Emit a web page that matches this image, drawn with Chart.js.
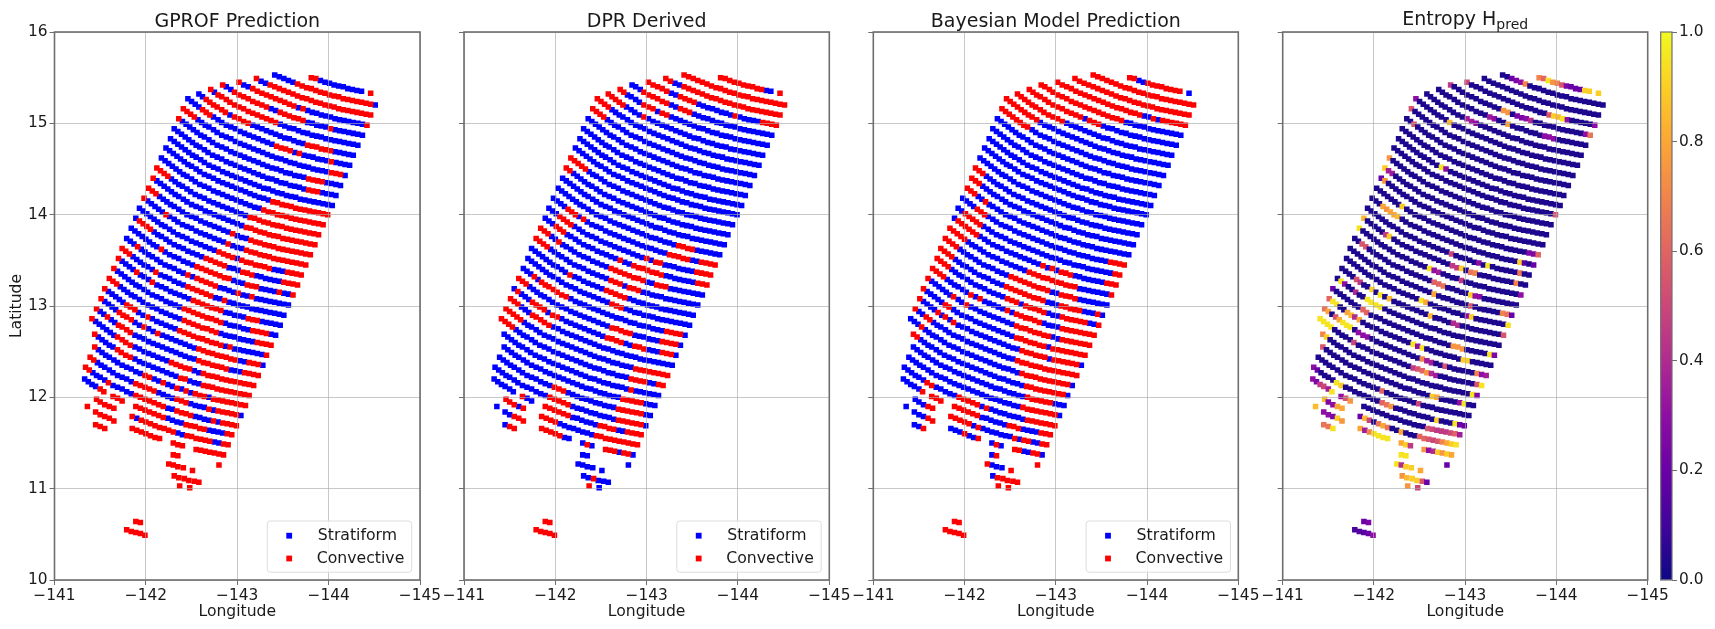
<!DOCTYPE html>
<html><head><meta charset="utf-8">
<script src="https://cdn.jsdelivr.net/npm/chart.js@4/dist/chart.umd.js"></script>
<style>html,body{margin:0;padding:0;background:#fff;width:1715px;height:629px;overflow:hidden}
canvas{position:absolute;top:0;filter:blur(0.4px)}</style></head><body>
<canvas id="p1" style="left:0"></canvas><canvas id="p2" style="left:440px"></canvas><canvas id="p3" style="left:850px"></canvas><canvas id="p4" style="left:1260px"></canvas><canvas id="cb" style="left:1640px"></canvas>
<script>
// Units: lon values are hundredths of a degree west of -141, lat values hundredths north of 10.
const rowStart=[22,15,12,9,6,4,2,0,0,0,0,0,0,0,0,0,0,0,0,0,0,0,0,0,0,0,0,0,0,0,2,3,3,3,4,8,7,10,0,0,0,0,0];
const lonRows=[
[281,286,291,296,301,306,311,316,321,326,331,336,null,346],
[241,246,251,256,261,266,271,276,281,286,291,296,301,306,311,316,321,326,331,336,341,346,351],
[221,226,231,236,241,246,251,256,261,266,271,276,281,286,291,296,301,306,311,316,321,326,331,336,341,346],
[202,207,212,217,222,227,232,237,242,247,252,257,262,267,272,277,282,287,292,297,302,307,312,317,322,327,332,337,342],
[184,188,193,197,202,207,212,217,222,227,232,237,242,247,252,257,262,267,272,277,282,287,292,297,302,307,312,317,322,327,332,337],
[171,175,179,183,188,192,197,202,207,212,217,222,227,232,237,242,247,252,257,262,267,272,277,282,287,292,297,302,307,312,317,322,327,332],
[158,162,166,170,174,178,183,187,192,197,202,207,212,217,222,227,232,237,242,247,252,257,262,267,272,277,282,287,292,297,302,307,312,317,322,327],
[146,150,154,158,162,166,170,174,179,183,188,193,198,203,208,213,218,223,228,233,238,243,248,253,258,263,268,273,278,283,288,293,298,303,308,313,318,323],
[141,145,149,153,157,161,165,169,174,178,183,188,193,198,203,208,213,218,223,228,233,238,243,248,253,258,263,268,273,278,283,288,293,298,303,308,313,318],
[136,140,144,148,152,156,160,164,169,173,178,183,188,193,198,203,208,213,218,223,228,233,238,243,248,253,258,263,268,273,278,283,288,293,298,303,308,313],
[131,135,139,143,147,151,155,159,164,168,173,178,183,188,193,198,203,208,213,218,223,228,233,238,243,248,253,258,263,268,273,278,283,288,293,298,303,308],
[127,131,135,139,143,147,151,155,160,164,169,174,179,184,189,194,199,204,209,214,219,224,229,234,239,244,249,254,259,264,269,274,279,284,289,294,299,304],
[122,126,130,134,138,142,146,150,155,159,164,169,174,179,184,189,194,199,204,209,214,219,224,229,234,239,244,249,254,259,264,269,274,279,284,289,294,299],
[117,121,125,129,133,137,141,145,150,154,159,164,169,174,179,184,189,194,199,204,209,214,219,224,229,234,239,244,249,254,259,264,269,274,279,284,289,294],
[112,116,120,124,128,132,136,140,145,149,154,159,164,169,174,179,184,189,194,199,204,209,214,219,224,229,234,239,244,249,254,259,264,269,274,279,284,289],
[108,112,116,120,124,128,132,136,141,145,150,155,160,165,170,175,180,185,190,195,200,205,210,215,220,225,230,235,240,245,250,255,260,265,270,275,280,285],
[103,107,111,115,119,123,127,131,136,140,145,150,155,160,165,170,175,180,185,190,195,200,205,210,215,220,225,230,235,240,245,250,255,260,265,270,275,280],
[98,102,106,110,114,118,122,126,131,135,140,145,150,155,160,165,170,175,180,185,190,195,200,205,210,215,220,225,230,235,240,245,250,255,260,265,270,275],
[93,97,101,105,109,113,117,121,126,130,135,140,145,150,155,160,165,170,175,180,185,190,195,200,205,210,215,220,225,230,235,240,245,250,255,260,265,270],
[89,93,97,101,105,109,113,117,122,126,131,136,141,146,151,156,161,166,171,176,181,186,191,196,201,206,211,216,221,226,231,236,241,246,251,256,261,266],
[84,88,92,96,100,104,108,112,117,121,126,131,136,141,146,151,156,161,166,171,176,181,186,191,196,201,206,211,216,221,226,231,236,241,246,251,256,261],
[79,83,87,91,95,99,103,107,112,116,121,126,131,136,141,146,151,156,161,166,171,176,181,186,191,196,201,206,211,216,221,226,231,236,241,246,251,256],
[74,78,82,86,90,94,98,102,107,111,116,121,126,131,136,141,146,151,156,161,166,171,176,181,186,191,196,201,206,211,216,221,226,231,236,241,246,251],
[70,74,78,82,86,90,94,98,103,107,112,117,122,127,132,137,142,147,152,157,162,167,172,177,182,187,192,197,202,207,212,217,222,227,232,237,242,247],
[65,69,73,77,81,85,89,93,98,102,107,112,117,122,127,132,137,142,147,152,157,162,167,172,177,182,187,192,197,202,207,212,217,222,227,232,237,242],
[60,64,68,72,76,80,84,88,93,97,102,107,112,117,122,127,132,137,142,147,152,157,162,167,172,177,182,187,192,197,202,207,212,217,222,227,232,237],
[55,59,63,67,71,75,79,83,88,92,97,102,107,112,117,122,127,132,137,142,147,152,157,162,167,172,177,182,187,192,197,202,207,212,217,222,227,232],
[51,55,59,63,67,71,75,79,84,88,93,98,103,108,113,118,123,128,133,138,143,148,153,158,163,168,173,178,183,188,193,198,203,208,213,218,223,228],
[46,50,54,58,62,66,70,74,79,83,88,93,98,103,108,113,118,123,128,133,138,143,148,153,158,163,168,173,178,183,188,193,198,203,208,213,218,223],
[41,45,49,53,57,61,65,69,74,78,83,88,93,98,103,108,113,118,123,128,133,138,143,148,153,158,163,168,173,178,183,188,193,198,203,208,213,218],
[44,48,52,56,60,64,69,73,78,83,88,93,98,103,108,113,118,123,128,133,138,143,148,153,158,163,168,173,178,183,188,193,198,203,208,213],
[44,48,52,56,60,65,69,74,79,84,89,94,99,104,109,114,119,124,129,134,139,144,149,154,159,164,169,174,179,184,189,194,199,204,209],
[39,43,47,51,55,60,64,69,74,79,84,89,94,99,104,109,114,119,124,129,134,139,144,149,154,159,164,169,174,179,184,189,194,199,204],
[34,38,42,46,50,55,59,64,69,74,79,84,89,94,99,104,109,114,119,124,129,134,139,144,149,154,159,164,169,174,179,184,189,194,199],
[33,37,41,45,50,54,null,64,69,74,null,null,89,94,99,104,109,114,119,124,129,134,139,144,149,154,159,164,169,174,179,184,189,194],
[46,50,55,60,65,null,null,null,85,90,95,100,105,110,115,120,125,130,135,140,145,150,155,160,165,170,175,180,185,190],
[36,null,45,50,55,60,65,null,null,null,85,90,95,100,105,110,115,null,null,130,135,140,null,null,155,160,165,170,175,180,185],
[45,50,55,null,null,null,null,null,null,null,null,null,null,null,null,null,null,130,135,null,null,null,null,null,null,null,null,180],
[125,130,135,141,151],
[131,136,142,147,153,158],
[137,148],
[79,84,89,94,99],
[89,94]];
const latRows=[
[550,549,547,545,544,542,541,540,538,537,536,535,null,533],
[553,551,549,547,545,543,541,539,538,536,534,533,531,530,529,527,526,525,524,523,522,521,520],
[549,546,544,542,540,538,536,534,532,530,528,527,525,523,522,520,519,518,516,515,514,513,512,511,510,509],
[545,542,540,538,535,533,531,529,527,525,523,521,519,517,516,514,512,511,509,508,507,505,504,503,502,501,500,499,498],
[542,540,537,534,531,529,527,524,522,520,518,516,514,512,510,508,506,505,503,501,500,498,497,496,494,493,492,491,490,489,488,487],
[537,534,531,529,526,523,520,518,516,513,511,509,507,505,503,501,499,497,495,494,492,490,489,487,486,485,483,482,481,480,479,478,477,476],
[532,529,526,523,520,518,515,512,509,507,505,502,500,498,496,494,492,490,488,486,484,483,481,479,478,476,475,474,472,471,470,469,468,467,466,465],
[527,524,521,518,515,512,509,507,504,501,498,496,494,491,489,487,485,483,481,479,477,475,473,472,470,468,467,465,464,463,461,460,459,458,457,456,455,454],
[516,513,510,507,504,501,498,496,493,490,487,485,483,480,478,476,474,472,470,468,466,464,462,461,459,457,456,454,453,452,450,449,448,447,446,445,444,443],
[505,502,499,496,493,490,487,485,482,479,476,474,472,469,467,465,463,461,459,457,455,453,451,450,448,446,445,443,442,441,439,438,437,436,435,434,433,432],
[494,491,488,485,482,479,476,474,471,468,465,463,461,458,456,454,452,450,448,446,444,442,440,439,437,435,434,432,431,430,428,427,426,425,424,423,422,421],
[483,480,477,474,471,468,465,463,460,457,454,452,450,447,445,443,441,439,437,435,433,431,429,428,426,424,423,421,420,419,417,416,415,414,413,412,411,410],
[473,470,467,464,461,458,455,453,450,447,444,442,440,437,435,433,431,429,427,425,423,421,419,418,416,414,413,411,410,409,407,406,405,404,403,402,401,400],
[462,459,456,453,450,447,444,442,439,436,433,431,429,426,424,422,420,418,416,414,412,410,408,407,405,403,402,400,399,398,396,395,394,393,392,391,390,389],
[451,448,445,442,439,436,433,431,428,425,422,420,418,415,413,411,409,407,405,403,401,399,397,396,394,392,391,389,388,387,385,384,383,382,381,380,379,378],
[440,437,434,431,428,425,422,420,417,414,411,409,407,404,402,400,398,396,394,392,390,388,386,385,383,381,380,378,377,376,374,373,372,371,370,369,368,367],
[429,426,423,420,417,414,411,409,406,403,400,398,396,393,391,389,387,385,383,381,379,377,375,374,372,370,369,367,366,365,363,362,361,360,359,358,357,356],
[418,415,412,409,406,403,400,398,395,392,389,387,385,382,380,378,376,374,372,370,368,366,364,363,361,359,358,356,355,354,352,351,350,349,348,347,346,345],
[407,404,401,398,395,392,389,387,384,381,378,376,374,371,369,367,365,363,361,359,357,355,353,352,350,348,347,345,344,343,341,340,339,338,337,336,335,334],
[396,393,390,387,384,381,378,376,373,370,367,365,363,360,358,356,354,352,350,348,346,344,342,341,339,337,336,334,333,332,330,329,328,327,326,325,324,323],
[385,382,379,376,373,370,367,365,362,359,356,354,352,349,347,345,343,341,339,337,335,333,331,330,328,326,325,323,322,321,319,318,317,316,315,314,313,312],
[374,371,368,365,362,359,356,354,351,348,345,343,341,338,336,334,332,330,328,326,324,322,320,319,317,315,314,312,311,310,308,307,306,305,304,303,302,301],
[363,360,357,354,351,348,345,343,340,337,334,332,330,327,325,323,321,319,317,315,313,311,309,308,306,304,303,301,300,299,297,296,295,294,293,292,291,290],
[352,349,346,343,340,337,334,332,329,326,323,321,319,316,314,312,310,308,306,304,302,300,298,297,295,293,292,290,289,288,286,285,284,283,282,281,280,279],
[341,338,335,332,329,326,323,321,318,315,312,310,308,305,303,301,299,297,295,293,291,289,287,286,284,282,281,279,278,277,275,274,273,272,271,270,269,268],
[330,327,324,321,318,315,312,310,307,304,301,299,297,294,292,290,288,286,284,282,280,278,276,275,273,271,270,268,267,266,264,263,262,261,260,259,258,257],
[319,316,313,310,307,304,301,299,296,293,290,288,286,283,281,279,277,275,273,271,269,267,265,264,262,260,259,257,256,255,253,252,251,250,249,248,247,246],
[308,305,302,299,296,293,290,288,285,282,279,277,275,272,270,268,266,264,262,260,258,256,254,253,251,249,248,246,245,244,242,241,240,239,238,237,236,235],
[297,294,291,288,285,282,279,277,274,271,268,266,264,261,259,257,255,253,251,249,247,245,243,242,240,238,237,235,234,233,231,230,229,228,227,226,225,224],
[286,283,280,277,274,271,268,266,263,260,257,255,253,250,248,246,244,242,240,238,236,234,232,231,229,227,226,224,223,222,220,219,218,217,216,215,214,213],
[269,266,263,260,257,255,252,249,246,244,242,239,237,235,233,231,229,227,225,223,221,220,218,216,215,213,212,211,209,208,207,206,205,204,203,202],
[255,252,249,246,244,241,238,235,233,231,228,226,224,222,220,218,216,214,212,210,209,207,205,204,202,201,200,198,197,196,195,194,193,192,191],
[244,241,238,235,233,230,227,224,222,220,217,215,213,211,209,207,205,203,201,199,198,196,194,193,191,190,189,187,186,185,184,183,182,181,180],
[233,230,227,224,222,219,216,213,211,209,206,204,202,200,198,196,194,192,190,188,187,185,183,182,180,179,178,176,175,174,173,172,171,170,169],
[220,217,214,212,209,206,null,201,199,196,null,null,190,188,186,184,182,180,178,177,175,173,172,170,169,168,166,165,164,163,162,161,160,159],
[198,195,192,190,188,null,null,null,179,177,175,173,171,169,167,166,164,162,161,159,158,157,155,154,153,152,151,150,149,148],
[190,null,184,181,179,177,174,null,null,null,166,164,162,160,158,156,155,null,null,150,148,147,null,null,143,142,141,140,139,138,137],
[170,168,166,null,null,null,null,null,null,null,null,null,null,null,null,null,null,137,136,null,null,null,null,null,null,null,null,126],
[127,126,124,123,120],
[114,112,111,109,108,107],
[103,101],
[55,53,52,51,49],
[64,63]];
// Per-row class runs: b = Stratiform, r = Convective, _ = no point
const gprofRuns=["r2b10_1r1","b5r17b1","r1b2r23","r1b2r10b1r1b13r1","r1b2r8b2r6b5r1b7","r1b1r14b18","b2r6b1r4b12r6b5","b4r3b14r4b1r1b6r1b4","r4b30r3b1","r1b29r4b4","b31r3b4","b38","b25r13","b24r14","r4b18r16","r1b21r16","r3b17r1b3r14","r1b5r1b13r1b3r14","b19r4b1r7b3r4","b1r4b12r5b3r3b6r4","b8r1b7r8b3r3b4r1b2r1","b3r1b11r1b1r5b4r1b2r1b8","r3b6r1b6r6b2r1b13","r1b4r1b3r1b8r7b5r3b5","r1b16r9b6r4b2","r3b15r8b8r4","r1b5r3b2r1b6r10b1r1b7r1","r1b4r4b2r1b2r1b8r9b2r3b1","r1b2r1b2r4b14r7b3r4","r1b6r4b8r5b2r12","r1b5r4b10r2b3r11","r1b11r2b2r1b2r1b1r1b1r3b1r8","r2b9r5b4r3b4r1b1r5b1","r2b4r1b5r7b2r4b4r1b1r4","b4r2_1r3_2r7b4r5b4r2","r5_3r1b1r8b2r6b2r2","r1_1r5_3r7_2r3_2r7","r3_14r2_8r1","r5","r6","r2","r5","r2"];
const dprRuns=["r10b2_1r1","r23","r2b2r22","r5b2r4b8r1b5r4","b3r6b2r3b18","r2b4r3b1r2b22","r5b4r1b26","r4b34","r4b34","b38","b38","b38","b38","r5b33","r2b36","b38","b28r4b6","b4r3b1r1b18r5b2r4","b3r4b16r1b1r2b7r4","b3r3b12r1b2r7b7r3","r3b2r1b11r8b2r3b8","r4b14r3b1r3b13","b10r1b7r5b15","b20r3b15","b3r1b1r7b21r4b1","r3b19r5b6r4b1","b1r1b3r4b1r2b10r4b2r3b3r3b1","r3b3r5b27","r5b25r8","r4b26r4b2r2","b29r1b6","b27r5b3","b13r3b11r6b2","b13r5b10r6b1","b6_1r1b2_2r6b6r4b2r4","r3b1r1_3r4b8r10","b1_1b2r3_3r5b2_2b1r1b1_2r3b1r2b1","b1r2_14b2_8b1","b5","b2r1b3","r1b1","r5","r2"];
const bayesRuns=["r2b2r8_1b1","r23","r26","r19b2r1b1r6","r19b13","r13b1r3b17","r12b24","r9b29","r8b30","b38","b38","b38","b38","b38","r3b35","r3b35","r3b2r1b32","b4r3b27r4","b2r5b29r2","b1r6b14r1b1r1b1r3b7r3","r5b14r11b7r1","r4b12r9b2r4b7","r4b12r9b3r5b3r1b1","r4b13r3b1r5b3r6b2r1","r4b6r1b1r1b5r1b1r6b4r8","r1b6r1b2r1b10r8b2r7","r1b5r2b14r7b1r8","r1b4r1b1r1b1r1b14r6b1r6b1","r1b2r2b19r14","b3r1b22r11b1","r2b24r9b1","b26r6b3","b26r8b1","b6r2b5r5b1r1b8r7","b5r1_1r3_2r6b6r3b4r3","b3r2_3r5b1r1b7r1b1r2b2r2","b1_1b3r2_3b3r1b2r1_2b1r1b1_2r2b2r2b1","b2r1_14b1r1_8r1","r1b3r1","b1r5","r2","r5","r2"];
// Entropy: background level and [row, scan position, entropy in %] for the points that stand out
const entropyBase=3;
const entropyHot=[[0,22,70],[0,23,60],[0,24,95],[0,25,75],[0,26,70],[0,27,55],[0,28,25],[0,29,20],[0,30,20],[0,31,20],[0,32,90],[0,33,90],[0,35,90],
[1,17,20],[1,18,25],[1,19,30],[1,20,70],[3,9,50],[4,6,45],[3,27,55],[3,28,90],[3,29,85],[3,30,95],[3,31,30],[3,37,30],[4,18,75],[4,19,75],[4,21,25],[4,22,25],[4,23,30],[4,24,40],[4,36,30],[4,37,65],
[7,9,85],[6,12,35],[6,13,35],[6,14,30],[5,16,35],[5,17,30],[5,20,80],[5,28,30],[5,29,30],[5,30,30],[8,0,55],[7,0,30],[9,2,55],[13,0,75],[14,0,90],[14,1,35],[14,2,35],[15,0,20],[15,1,75],[11,11,95],[11,12,30],
[17,3,80],[17,4,75],[17,5,80],[17,6,80],[17,7,85],[16,7,90],[19,0,85],[20,0,95],[12,37,55],[19,6,45],[19,7,90],[21,2,55],[21,3,55],[18,20,50],[16,37,60],[16,36,25],[16,35,25],[18,28,95],[18,26,30],[17,34,90],[17,35,15],[17,37,20],
[20,17,95],[20,18,30],[20,19,35],[19,21,45],[19,22,45],[19,23,90],[19,25,65],[19,26,70],[18,35,65],[19,35,70],[20,37,30],[21,19,60],[21,20,60],[21,21,65],[20,24,45],[22,20,80],[21,27,90],[21,28,30],[21,29,30],
[25,1,95],[25,2,30],[24,4,55],[24,5,45],[26,0,20],[25,5,40],[24,8,90],[24,10,95],[24,12,85],[27,0,60],[27,1,95],[27,2,95],[25,8,95],[25,9,95],[25,10,95],[25,11,95],[23,18,95],[23,19,80],[22,28,55],[22,35,70],[22,36,65],[22,37,20],
[28,0,65],[28,1,80],[26,8,60],[26,9,60],[24,21,85],[23,29,90],[29,0,95],[29,1,95],[29,2,95],[29,3,95],[28,3,55],[28,4,80],[28,5,95],[28,6,95],[28,7,95],[27,5,80],[27,6,85],[27,7,40],[27,8,80],[30,2,70],[30,3,90],[29,9,50],[28,9,30],[28,10,30],[28,11,30],[31,3,55],[33,3,30],[33,4,20],
[34,4,30],[34,5,25],[34,6,45],[34,7,50],[34,8,35],[34,9,95],[33,9,95],[33,10,90],[32,18,60],[27,20,95],[27,21,30],[27,22,95],[26,28,75],[26,29,75],[26,30,75],[27,31,90],[27,32,90],[28,23,70],[28,24,35],[28,25,35],[29,22,45],[29,23,55],[29,24,60],[29,25,75],[29,26,40],[29,27,35],[28,28,55],[28,35,70],[28,36,30],[28,37,35],[26,36,95],[26,37,25],[24,37,55],[23,37,95],[23,28,30],[24,26,40],[24,27,40],
[29,36,55],[29,37,95],[30,36,95],[30,37,25],[31,28,90],[31,29,80],[32,26,50],[31,35,95],[31,34,30],[35,16,20],[35,17,85],[35,18,50],[35,20,65],[35,21,80],[35,22,65],[33,19,60],[33,20,65],[33,21,75],[33,31,90],[33,35,95],[33,36,20],[33,37,20],[35,25,80],
[34,30,55],[34,31,50],[34,32,45],[34,33,45],[34,34,45],[34,35,50],[34,36,60],[34,37,35],[35,29,60],[35,30,60],[35,31,55],[35,32,50],[35,33,55],[35,34,70],[35,35,80],[35,36,90],[35,37,95],[36,20,95],[36,21,95],[36,22,95],[36,23,95],[36,17,80],[36,18,35],[36,19,70],[36,26,80],[36,27,90],[36,28,45],[36,31,75],[36,32,30],[36,33,40],[36,34,90],[36,35,75],[36,36,90],[36,37,80],
[35,8,85],[35,9,25],[35,10,30],[35,11,80],[35,12,80],[36,7,85],[36,9,30],[36,10,30],[36,11,25],[36,12,90],[36,13,75],[37,10,65],[37,11,65],[37,12,95],[34,11,30],[34,12,55],[34,13,75],[37,27,95],[37,28,95],[37,37,20],
[38,0,95],[38,1,40],[38,2,90],[38,3,90],[38,4,80],[39,0,75],[39,1,85],[39,2,90],[39,3,90],[39,4,55],[39,5,20],[40,0,75],[40,1,50],[41,0,12],[41,1,15],[41,2,15],[41,3,20],[41,4,30],[42,0,20],[42,1,25]];
const xTicks=[-145,-144,-143,-142,-141];
const yTicks=[10,11,12,13,14,15,16];
const plasmaStops=['#0d0887','#41049d','#6a00a8','#8f0da4','#b12a90','#cc4778','#e16462','#f2844b','#fca636','#fcce25','#f0f921'];
const BLUE='#0000ff',RED='#ff0000',FONT='"DejaVu Sans"',INK='#1a1a1a',SPINE='#6e6e6e';

function hex(h){return [1,3,5].map(i=>parseInt(h.substr(i,2),16));}
function plasma(v){const t=Math.min(.9999,Math.max(0,v))*10,i=Math.floor(t),f=t-i,a=hex(plasmaStops[i]),b=hex(plasmaStops[i+1]);
 return 'rgb('+a.map((c,j)=>Math.round(c+(b[j]-c)*f)).join(',')+')';}
function pt(k,p){return {x:-(141+lonRows[k][p]/100),y:10+latRows[k][p]/100};}
function classes(runs){const out={b:[],r:[]};runs.forEach((run,k)=>{let p=0;for(const m of run.matchAll(/([br_])(\d+)/g)){const n=+m[2];for(let i=0;i<n;i++,p++){if(m[1]!=='_'&&lonRows[k][p]!=null)out[m[1]].push(pt(k,p));}}});return out;}
function entropyPoints(){const hot={};entropyHot.forEach(([k,i,v])=>hot[k+':'+(i-rowStart[k])]=v);const pts=[],cols=[];
 lonRows.forEach((r,k)=>r.forEach((v,p)=>{if(v==null)return;pts.push(pt(k,p));const h=hot[k+':'+p];cols.push(plasma((h==null?entropyBase:h)/100));}));
 return {pts,cols};}

const frame={id:'frame',afterDraw(c,a,o){const g=c.ctx,A=c.chartArea;g.save();
 g.strokeStyle=SPINE;g.lineWidth=1.6;g.strokeRect(A.left,A.top,A.width,A.height);
 if(o.legend){const L=A.left+212.8,T=521,W=144.4,H=51.2;g.beginPath();g.roundRect(L,T,W,H,3);g.fillStyle='rgba(255,255,255,.8)';g.fill();g.strokeStyle='#dcdcdc';g.lineWidth=1;g.stroke();
  g.fillStyle=BLUE;g.fillRect(L+19,532.8,5.8,5.8);g.fillStyle=RED;g.fillRect(L+19,555.6,5.8,5.8);
  g.fillStyle=INK;g.font='15.7px '+FONT;g.textAlign='left';g.textBaseline='middle';g.fillText('Stratiform',L+50.5,535.7);g.fillText('Convective',L+49.5,558.6);}
 const cx=(A.left+A.right)/2;g.fillStyle=INK;g.textBaseline='alphabetic';g.textAlign='center';
 if(o.sub){g.font='19px '+FONT;const w1=g.measureText(o.title).width;g.font='14px '+FONT;const w2=g.measureText(o.sub).width;const x0=cx-(w1+w2)/2;g.textAlign='left';g.font='19px '+FONT;g.fillText(o.title,x0,25);g.font='14px '+FONT;g.fillText(o.sub,x0+w1,28.5);}
 else{g.font='19px '+FONT;g.fillText(o.title,cx,26.5);}
 g.restore();}};

function panel(id,w,axisW,padR,datasets,opts){
 const el=document.getElementById(id);el.width=w;el.height=629;el.style.width=w+'px';el.style.height='629px';
 return new Chart(el,{type:'scatter',data:{datasets},plugins:[frame],options:{responsive:false,animation:false,events:[],
  layout:{autoPadding:false,padding:{left:0,right:padR,top:32,bottom:0}},
  plugins:{legend:{display:false},tooltip:{enabled:false},title:{display:false},frame:{title:opts.title,sub:opts.sub,legend:opts.legend}},
  scales:{
   x:{type:'linear',min:-145,max:-141,reverse:true,afterFit(s){s.height=49;},afterBuildTicks(s){s.ticks=xTicks.map(v=>({value:v}));},
    border:{display:false},grid:{color:'rgba(170,170,170,.65)',lineWidth:1,z:1,tickLength:5,tickColor:SPINE},
    ticks:{maxRotation:0,autoSkip:false,padding:2,color:INK,font:{family:FONT,size:15.4},callback:v=>'\u2212'+Math.abs(v)},
    title:{display:true,text:'Longitude',color:INK,font:{family:FONT,size:15.6},padding:{top:0,bottom:8}}},
   y:{type:'linear',min:10,max:16,afterFit(s){s.width=axisW;},afterBuildTicks(s){s.ticks=yTicks.map(v=>({value:v}));},
    border:{display:false},grid:{color:'rgba(170,170,170,.65)',lineWidth:1,z:1,tickLength:5,tickColor:SPINE},
    ticks:{padding:2,color:INK,font:{family:FONT,size:15.4},callback:v=>opts.yLabels?String(v):''},
    title:{display:!!opts.yLabels,text:'Latitude',color:INK,font:{family:FONT,size:15.6},padding:{top:8,bottom:0}}}
  }}});
}
function classDatasets(runs){const c=classes(runs);const base={pointStyle:'rect',pointRadius:3.9,pointBorderWidth:0,showLine:false};
 return [{label:'Convective',data:c.r,backgroundColor:RED,...base},{label:'Stratiform',data:c.b,backgroundColor:BLUE,...base}];}

panel('p1',440,54.5,20,classDatasets(gprofRuns),{title:'GPROF Prediction',legend:true,yLabels:true});
panel('p2',410,24,20.7,classDatasets(dprRuns),{title:'DPR Derived',legend:true});
panel('p3',410,23.3,21.7,classDatasets(bayesRuns),{title:'Bayesian Model Prediction',legend:true});
const en=entropyPoints();
panel('p4',410,22.7,22.3,[{label:'Entropy',data:en.pts,backgroundColor:en.cols,pointStyle:'rect',pointRadius:3.9,pointBorderWidth:0,showLine:false}],{title:'Entropy H',sub:'pred'});

// colour bar
const cbEl=document.getElementById('cb');cbEl.width=75;cbEl.height=629;cbEl.style.width='75px';cbEl.style.height='629px';
new Chart(cbEl,{type:'bar',data:{labels:['H'],datasets:[{data:[[0,1]],barPercentage:1,categoryPercentage:1,borderWidth:0,borderSkipped:false,
 backgroundColor(ctx){const A=ctx.chart.chartArea;if(!A)return '#000';const g=ctx.chart.ctx.createLinearGradient(0,A.bottom,0,A.top);plasmaStops.forEach((c,i)=>g.addColorStop(i/10,c));return g;}}]},
 plugins:[{id:'cbframe',afterDraw(c){const g=c.ctx,A=c.chartArea;g.save();g.strokeStyle=SPINE;g.lineWidth=1.2;g.strokeRect(A.left,A.top,A.width,A.height);g.restore();}}],
 options:{responsive:false,animation:false,events:[],layout:{autoPadding:false,padding:{left:20.7,right:0,top:32,bottom:49}},
  plugins:{legend:{display:false},tooltip:{enabled:false}},
  scales:{x:{display:false},y:{position:'right',min:0,max:1,afterFit(s){s.width=43;},border:{display:false},grid:{drawOnChartArea:false,tickLength:5,tickColor:SPINE},
   ticks:{stepSize:.2,padding:2,color:INK,font:{family:FONT,size:15.4},callback:v=>v.toFixed(1)}}}}});
</script></body></html>
